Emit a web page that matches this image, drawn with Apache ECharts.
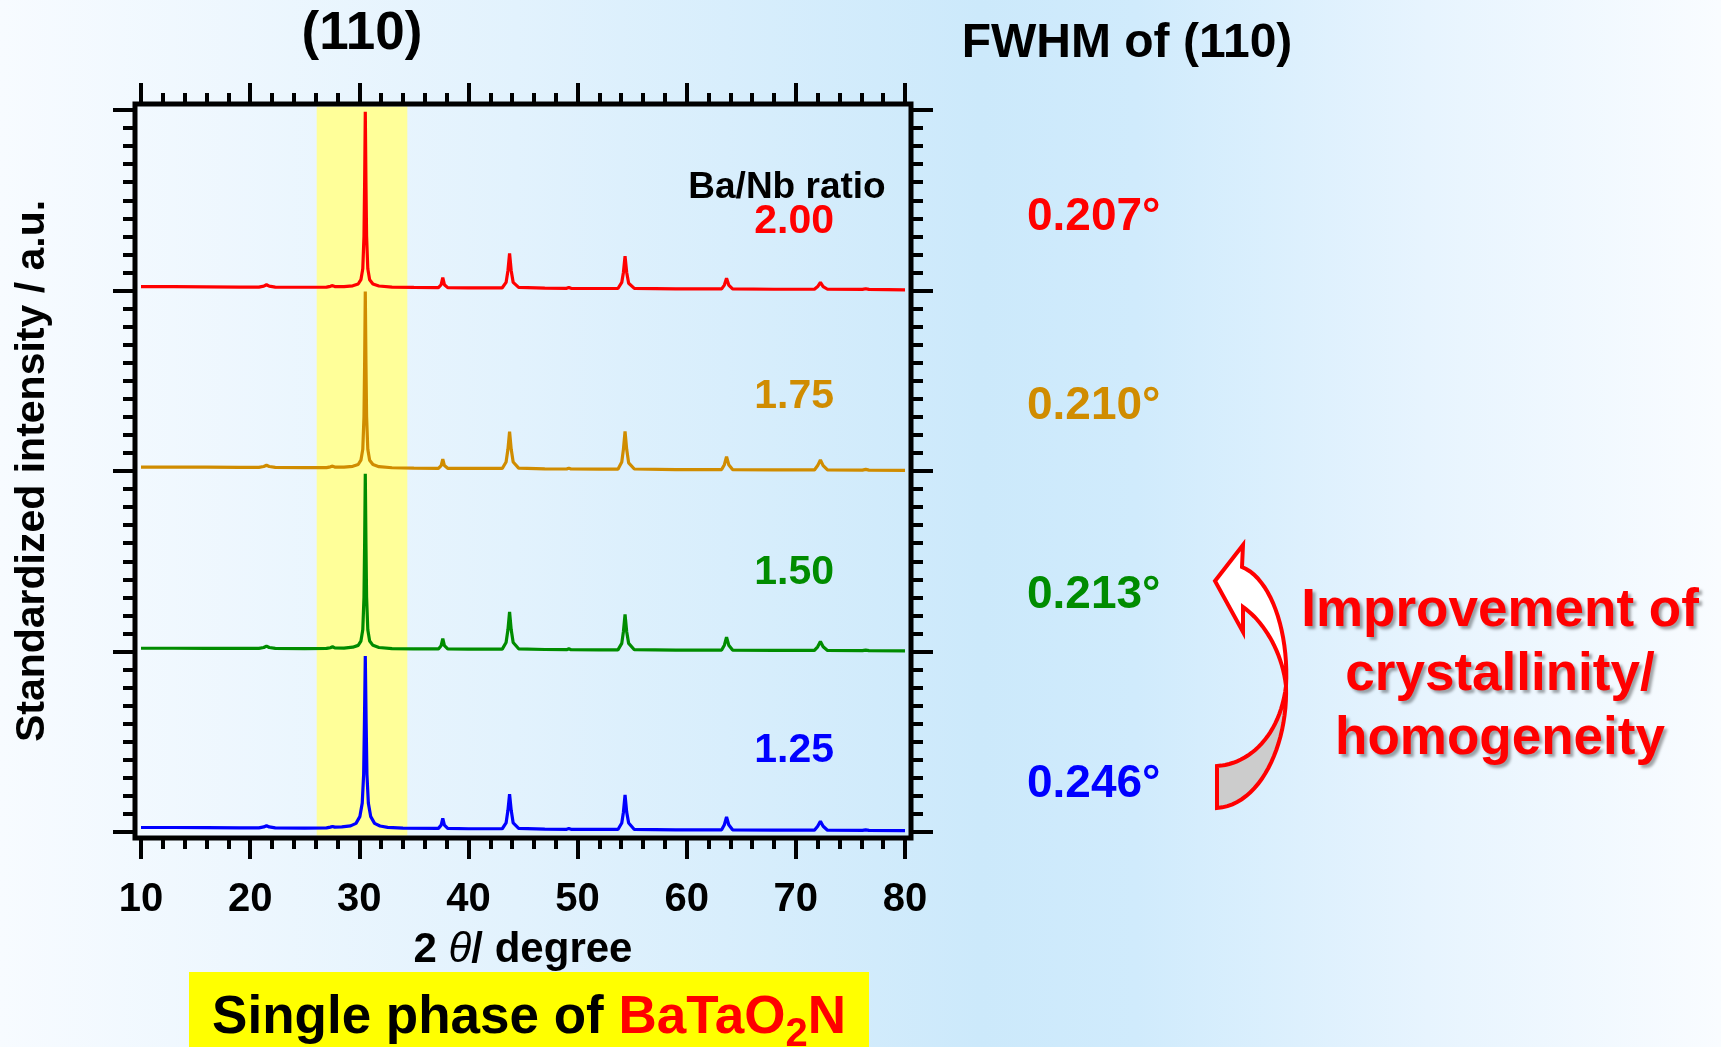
<!DOCTYPE html>
<html><head><meta charset="utf-8">
<script src="https://cdn.jsdelivr.net/npm/echarts/dist/echarts.min.js"></script>
<style>html,body{margin:0;padding:0;overflow:hidden;background:#fff}#c{width:1721px;height:1047px}</style>
</head><body><div id="c"></div>
<script>
// ---------------- DATA ----------------
const xTicks = [10, 20, 30, 40, 50, 60, 70, 80];
const bandRange = [26.1, 34.4];          // highlighted (110) region, 2θ
const ratios = ['1.25', '1.50', '1.75', '2.00'];
const fwhm = ['0.246°', '0.213°', '0.210°', '0.207°'];
const offsets = [0, 1, 2, 3];            // vertical stacking offsets

// [2θ, standardized intensity]
const xrd125 = [[10.0,0.025],[13,0.025],[16,0.024],[19,0.023],[20.8,0.023],[21.25,0.028],[21.5,0.035],[21.75,0.028],[22.3,0.023],[25,0.022],[27.0,0.023],[27.35,0.027],[27.55,0.031],[27.75,0.027],[28.4,0.028],[29.2,0.034],[29.7,0.048],[30.05,0.085],[30.27,0.16],[30.4,0.32],[30.47,0.60],[30.55,0.975],[30.63,0.60],[30.7,0.32],[30.83,0.16],[31.05,0.085],[31.4,0.048],[31.9,0.033],[32.6,0.026],[34,0.022],[37.25,0.02],[37.5,0.038],[37.65,0.075],[37.8,0.038],[38.1,0.02],[40,0.018],[43.1,0.018],[43.45,0.05],[43.62,0.12],[43.77,0.21],[43.92,0.12],[44.1,0.05],[44.6,0.02],[47,0.016],[49.0,0.015],[49.2,0.019],[49.4,0.015],[52,0.014],[53.7,0.014],[54.05,0.05],[54.2,0.11],[54.35,0.205],[54.5,0.11],[54.68,0.05],[55.2,0.014],[59,0.012],[63.2,0.012],[63.45,0.04],[63.65,0.083],[63.85,0.04],[64.2,0.012],[68,0.010],[71.7,0.010],[72.0,0.032],[72.25,0.06],[72.5,0.032],[72.9,0.010],[76.1,0.009],[76.4,0.012],[76.7,0.009],[80,0.008]];
const xrd150 = [[10.0,0.018],[13,0.018],[16,0.017],[19,0.017],[20.8,0.017],[21.25,0.022],[21.5,0.030],[21.75,0.022],[22.3,0.017],[25,0.016],[27.0,0.017],[27.35,0.021],[27.55,0.026],[27.75,0.020],[28.6,0.019],[29.4,0.024],[29.9,0.034],[30.15,0.058],[30.32,0.12],[30.43,0.30],[30.49,0.60],[30.55,0.985],[30.61,0.60],[30.67,0.30],[30.78,0.12],[30.95,0.058],[31.25,0.034],[31.8,0.022],[33,0.016],[35,0.015],[37.25,0.014],[37.5,0.032],[37.65,0.072],[37.8,0.032],[38.1,0.014],[40,0.013],[43.1,0.013],[43.45,0.05],[43.62,0.12],[43.77,0.22],[43.92,0.12],[44.1,0.05],[44.6,0.015],[47,0.011],[49.0,0.010],[49.2,0.015],[49.4,0.010],[52,0.009],[53.7,0.009],[54.05,0.045],[54.2,0.11],[54.35,0.205],[54.5,0.11],[54.68,0.045],[55.2,0.010],[59,0.008],[63.2,0.008],[63.45,0.035],[63.65,0.08],[63.85,0.035],[64.2,0.008],[68,0.006],[71.7,0.006],[72.0,0.026],[72.25,0.055],[72.5,0.026],[72.9,0.006],[76.1,0.005],[76.4,0.008],[76.7,0.005],[80,0.004]];
const xrd175 = [[10.0,0.022],[13,0.022],[16,0.021],[19,0.020],[20.8,0.020],[21.25,0.025],[21.5,0.032],[21.75,0.025],[22.3,0.020],[25,0.019],[27.0,0.019],[27.35,0.023],[27.55,0.027],[27.75,0.022],[28.6,0.021],[29.4,0.026],[29.9,0.036],[30.15,0.06],[30.32,0.12],[30.43,0.30],[30.49,0.60],[30.55,0.995],[30.61,0.60],[30.67,0.30],[30.78,0.12],[30.95,0.06],[31.25,0.036],[31.8,0.024],[33,0.018],[35,0.016],[37.25,0.015],[37.5,0.03],[37.65,0.066],[37.8,0.03],[38.1,0.015],[40,0.014],[43.1,0.014],[43.45,0.05],[43.62,0.12],[43.77,0.218],[43.92,0.12],[44.1,0.05],[44.6,0.016],[47,0.012],[49.0,0.011],[49.2,0.016],[49.4,0.011],[52,0.010],[53.7,0.010],[54.05,0.05],[54.2,0.12],[54.35,0.22],[54.5,0.12],[54.68,0.045],[55.2,0.011],[59,0.008],[63.2,0.008],[63.45,0.035],[63.65,0.08],[63.85,0.035],[64.2,0.008],[68,0.006],[71.7,0.006],[72.0,0.03],[72.25,0.062],[72.5,0.03],[72.9,0.006],[76.1,0.005],[76.4,0.009],[76.7,0.005],[80,0.003]];
const xrd200 = [[10.0,0.021],[13,0.021],[16,0.020],[19,0.019],[20.8,0.019],[21.25,0.024],[21.5,0.032],[21.75,0.024],[22.3,0.019],[25,0.018],[27.0,0.019],[27.35,0.023],[27.55,0.027],[27.75,0.022],[28.6,0.021],[29.4,0.026],[29.9,0.036],[30.15,0.06],[30.32,0.12],[30.43,0.30],[30.49,0.60],[30.55,0.99],[30.61,0.60],[30.67,0.30],[30.78,0.12],[30.95,0.06],[31.25,0.036],[31.8,0.025],[33,0.019],[35,0.017],[37.25,0.016],[37.5,0.032],[37.65,0.071],[37.8,0.032],[38.1,0.016],[40,0.015],[43.1,0.015],[43.45,0.045],[43.62,0.11],[43.77,0.205],[43.92,0.11],[44.1,0.045],[44.6,0.017],[47,0.013],[49.0,0.012],[49.2,0.017],[49.4,0.012],[52,0.011],[53.7,0.011],[54.05,0.045],[54.2,0.10],[54.35,0.19],[54.5,0.10],[54.68,0.04],[55.2,0.012],[59,0.009],[63.2,0.009],[63.45,0.03],[63.65,0.068],[63.85,0.03],[64.2,0.009],[68,0.007],[71.7,0.007],[72.0,0.022],[72.25,0.045],[72.5,0.022],[72.9,0.007],[76.1,0.006],[76.4,0.010],[76.7,0.006],[80,0.004]];
const traces = [xrd125, xrd150, xrd175, xrd200];

// ---------------- STYLE / LAYOUT ----------------
const colors = ['#0000FF', '#008C00', '#D08C00', '#FF0000'];
const FF = '"Liberation Sans", Arial, Helvetica, sans-serif';
const G = {left: 141, top: 110, width: 764, height: 722};
const OFF = 6;
const ratioY = [751, 573, 397, 222];
const fwhmY = [784, 595, 406, 217];

const chart = echarts.init(document.getElementById('c'), null, {renderer: 'canvas'});

function cubic(p0, p1, p2, p3, n) {
  const pts = [];
  for (let i = 0; i <= n; i++) {
    const t = i / n, u = 1 - t;
    pts.push([u*u*u*p0[0] + 3*u*u*t*p1[0] + 3*u*t*t*p2[0] + t*t*t*p3[0],
              u*u*u*p0[1] + 3*u*u*t*p1[1] + 3*u*t*t*p2[1] + t*t*t*p3[1]]);
  }
  return pts;
}
// curved arrow (decoration)
const T = [1215, 581], B1 = [1243, 545], N1 = [1242, 567], B2 = [1243, 632], N2 = [1243, 607];
const X = [1286, 686], TB = [1217, 808], TT = [1217, 766];
const upOuter = cubic(N1, [1270, 578], [1289, 630], X, 20);
const upInner = cubic(N2, [1262, 620], [1282, 650], X, 20);
const whitePts = [T, B1].concat(upOuter).concat(upInner.slice().reverse()).concat([B2]);
const lowOuter = cubic(X, [1288, 745], [1260, 805], TB, 24);
const lowInner = cubic(TT, [1250, 764], [1280, 735], X, 24);
const grayPts = lowOuter.concat([TT]).concat(lowInner.slice(1));

const tickStyle = {color: '#000', width: 4};
function xAx(pos, showLabel) {
  return {
    type: 'value', min: 10, max: 80, interval: 10, position: pos, offset: OFF,
    axisLine: {show: false, onZero: false}, splitLine: {show: false},
    axisTick: {show: true, length: 21, lineStyle: tickStyle},
    minorTick: {show: true, splitNumber: 5, length: 11, lineStyle: tickStyle},
    axisLabel: {show: showLabel, margin: 42, color: '#000', fontSize: 40, fontWeight: 'bold', fontFamily: FF},
  };
}
function yAx(pos) {
  return {
    type: 'value', min: 0, max: 4, interval: 1, position: pos, offset: OFF,
    axisLine: {show: false, onZero: false}, splitLine: {show: false},
    axisTick: {show: true, length: 22, lineStyle: tickStyle},
    minorTick: {show: true, splitNumber: 10, length: 12, lineStyle: tickStyle},
    axisLabel: {show: false},
  };
}
const xa0 = xAx('bottom', true);
xa0.name = '{a|2 }{t|θ}{a|/ degree}';
xa0.nameLocation = 'middle';
xa0.nameGap = 91;
xa0.nameTextStyle = {rich: {
  a: {fontSize: 42, fontWeight: 'bold', fontFamily: FF, color: '#000'},
  t: {fontSize: 42, fontStyle: 'italic', fontWeight: 'normal', fontFamily: FF, color: '#000'}
}};
const ya0 = yAx('left');
ya0.name = 'Standardized intensity / a.u.';
ya0.nameLocation = 'middle';
ya0.nameGap = 82;
ya0.nameTextStyle = {fontSize: 41, fontWeight: 'bold', fontFamily: FF, color: '#000'};

const series = [{
  type: 'custom', clip: false, silent: true, z: 1,
  data: [[bandRange[0], bandRange[1]]],
  encode: {x: [0, 1]},
  renderItem: function (params, api) {
    const x0 = api.coord([api.value(0), 0])[0];
    const x1 = api.coord([api.value(1), 0])[0];
    const cs = params.coordSys;
    return {type: 'rect', shape: {x: x0, y: cs.y - OFF + 2.5, width: x1 - x0, height: cs.height + 2 * OFF - 5},
      style: {fill: '#FFFF99'}};
  }
}];
traces.forEach((tr, i) => {
  series.push({
    type: 'line', name: ratios[i], z: 3, symbol: 'none', silent: true,
    lineStyle: {color: colors[i], width: 3.2},
    data: tr.map(p => [p[0], p[1] + offsets[i]])
  });
});

const txt = (text, x, y, font, fill, align, extra) => ({
  type: 'text', x: x, y: y, z: 100, silent: true,
  style: Object.assign({text: text, font: font, fill: fill, align: align || 'center', verticalAlign: 'middle'}, extra || {})
});
const shadow = {textShadowColor: 'rgba(0,0,0,0.35)', textShadowBlur: 3, textShadowOffsetX: 3, textShadowOffsetY: 3};

const graphic = [
  {type: 'rect', z: 90, silent: true,
   shape: {x: G.left - OFF, y: G.top - OFF, width: G.width + 2 * OFF, height: G.height + 2 * OFF},
   style: {fill: 'none', stroke: '#000', lineWidth: 5}},
  txt('(110)', 362, 34, 'bold 53px ' + FF, '#000'),
  txt('FWHM of (110)', 1127, 44, 'bold 48px ' + FF, '#000'),
  txt('Ba/Nb ratio', 787, 188, 'bold 37px ' + FF, '#000'),
  txt('Improvement of', 1500, 611, 'bold 53px ' + FF, '#FF0000', 'center', shadow),
  txt('crystallinity/', 1500, 675, 'bold 53px ' + FF, '#FF0000', 'center', shadow),
  txt('homogeneity', 1500, 739, 'bold 53px ' + FF, '#FF0000', 'center', shadow),
  {type: 'polygon', z: 95, silent: true, shape: {points: grayPts},
   style: {fill: '#CCCCCC', stroke: '#FF0000', lineWidth: 4, lineJoin: 'miter'}},
  {type: 'polygon', z: 96, silent: true, shape: {points: whitePts},
   style: {fill: '#FFFFFF', stroke: '#FF0000', lineWidth: 4, lineJoin: 'miter'}},
  {type: 'rect', z: 80, silent: true, shape: {x: 189, y: 972, width: 680, height: 90}, style: {fill: '#FFFF00'}},
  {type: 'text', z: 100, silent: true, x: 529, y: 1018,
   style: {text: '{k|Single phase of }{r|BaTaO}{s|2}{r|N}', align: 'center', verticalAlign: 'middle',
     rich: {
       k: {font: 'bold 53px ' + FF, fill: '#000', lineHeight: 74},
       r: {font: 'bold 53px ' + FF, fill: '#FF0000', lineHeight: 74},
       s: {font: 'bold 40px ' + FF, fill: '#FF0000', lineHeight: 40, verticalAlign: 'bottom'}
     }}}
];
ratios.forEach((r, i) => graphic.push(txt(r, 834, ratioY[i], 'bold 41px ' + FF, colors[i], 'right')));
fwhm.forEach((f, i) => graphic.push(txt(f, 1027, fwhmY[i], 'bold 46px ' + FF, colors[i], 'left')));

chart.setOption({
  animation: false,
  backgroundColor: {type: 'linear', x: 0, y: 0, x2: 1, y2: 0, colorStops: [
    {offset: 0, color: '#F7FBFF'}, {offset: 0.3, color: '#E2F2FD'}, {offset: 0.57, color: '#CCE9FB'},
    {offset: 0.66, color: '#D0EBFC'}, {offset: 0.83, color: '#E7F4FE'}, {offset: 1, color: '#F9FCFF'}]},
  grid: {left: G.left, top: G.top, width: G.width, height: G.height, containLabel: false},
  xAxis: [xa0, xAx('top', false)],
  yAxis: [ya0, yAx('right')],
  series: series,
  graphic: graphic
});
</script></body></html>
